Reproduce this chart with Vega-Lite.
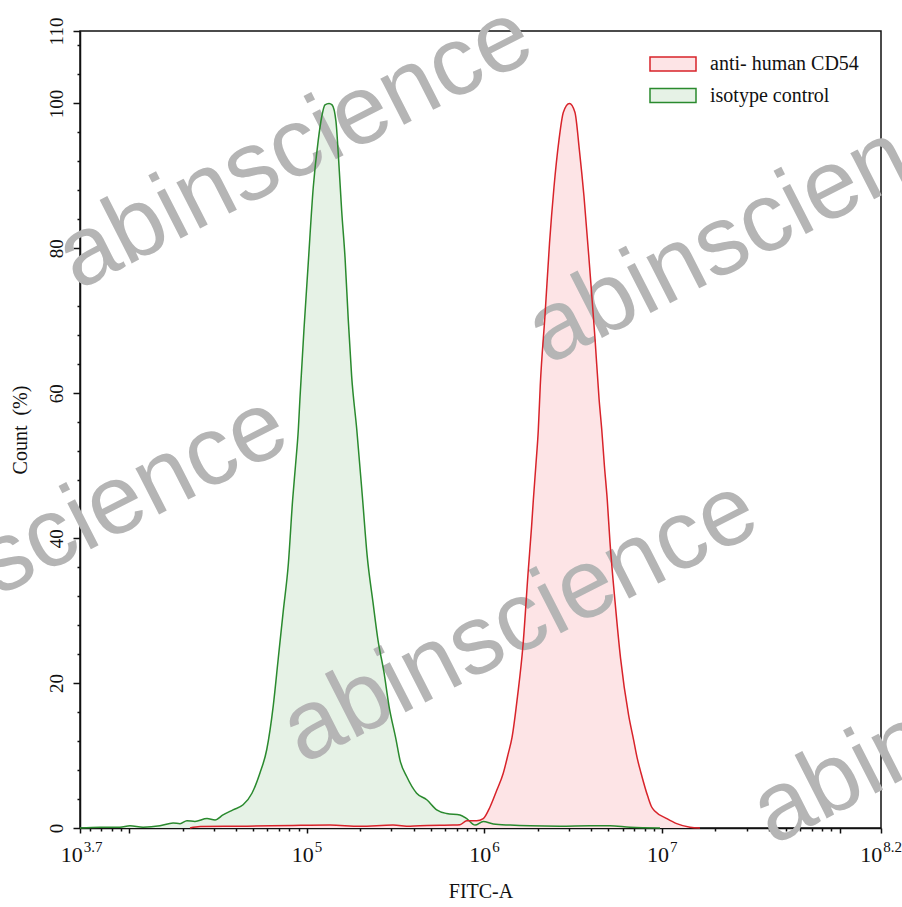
{
  "$schema": "https://vega.github.io/schema/vega-lite/v6.json",
  "width": 801,
  "height": 797,
  "autosize": {"type": "none"},
  "padding": {"left": 80, "top": 31, "right": 21, "bottom": 79},
  "background": "white",
  "datasets": {
    "hist": [
      {"series": "isotype control", "log10FITC": 3.724, "count": 0},
      {"series": "isotype control", "log10FITC": 3.837, "count": 0.1},
      {"series": "isotype control", "log10FITC": 3.949, "count": 0.1},
      {"series": "isotype control", "log10FITC": 4.005, "count": 0.3},
      {"series": "isotype control", "log10FITC": 4.079, "count": 0.1},
      {"series": "isotype control", "log10FITC": 4.174, "count": 0.3},
      {"series": "isotype control", "log10FITC": 4.248, "count": 0.7},
      {"series": "isotype control", "log10FITC": 4.287, "count": 0.6},
      {"series": "isotype control", "log10FITC": 4.326, "count": 1.0},
      {"series": "isotype control", "log10FITC": 4.371, "count": 0.9},
      {"series": "isotype control", "log10FITC": 4.439, "count": 1.3},
      {"series": "isotype control", "log10FITC": 4.484, "count": 1.1},
      {"series": "isotype control", "log10FITC": 4.529, "count": 1.8},
      {"series": "isotype control", "log10FITC": 4.585, "count": 2.5},
      {"series": "isotype control", "log10FITC": 4.642, "count": 3.2},
      {"series": "isotype control", "log10FITC": 4.692, "count": 4.8},
      {"series": "isotype control", "log10FITC": 4.737, "count": 7.6},
      {"series": "isotype control", "log10FITC": 4.775, "count": 10.8},
      {"series": "isotype control", "log10FITC": 4.812, "count": 16.9},
      {"series": "isotype control", "log10FITC": 4.840, "count": 23.4},
      {"series": "isotype control", "log10FITC": 4.868, "count": 29.9},
      {"series": "isotype control", "log10FITC": 4.897, "count": 36.5},
      {"series": "isotype control", "log10FITC": 4.921, "count": 45.3},
      {"series": "isotype control", "log10FITC": 4.937, "count": 50},
      {"series": "isotype control", "log10FITC": 4.953, "count": 55},
      {"series": "isotype control", "log10FITC": 4.962, "count": 59.2},
      {"series": "isotype control", "log10FITC": 4.985, "count": 68.9},
      {"series": "isotype control", "log10FITC": 5.009, "count": 78},
      {"series": "isotype control", "log10FITC": 5.037, "count": 88.4},
      {"series": "isotype control", "log10FITC": 5.065, "count": 94.9},
      {"series": "isotype control", "log10FITC": 5.085, "count": 98.2},
      {"series": "isotype control", "log10FITC": 5.103, "count": 99.8},
      {"series": "isotype control", "log10FITC": 5.126, "count": 100},
      {"series": "isotype control", "log10FITC": 5.143, "count": 99.8},
      {"series": "isotype control", "log10FITC": 5.165, "count": 97.5},
      {"series": "isotype control", "log10FITC": 5.178, "count": 93},
      {"series": "isotype control", "log10FITC": 5.197, "count": 85.2},
      {"series": "isotype control", "log10FITC": 5.216, "count": 78.7},
      {"series": "isotype control", "log10FITC": 5.234, "count": 70.2},
      {"series": "isotype control", "log10FITC": 5.253, "count": 62.4},
      {"series": "isotype control", "log10FITC": 5.282, "count": 55},
      {"series": "isotype control", "log10FITC": 5.315, "count": 45.3},
      {"series": "isotype control", "log10FITC": 5.340, "count": 37.7},
      {"series": "isotype control", "log10FITC": 5.373, "count": 31.2},
      {"series": "isotype control", "log10FITC": 5.401, "count": 26},
      {"series": "isotype control", "log10FITC": 5.435, "count": 21.5},
      {"series": "isotype control", "log10FITC": 5.463, "count": 16.9},
      {"series": "isotype control", "log10FITC": 5.503, "count": 12.2},
      {"series": "isotype control", "log10FITC": 5.525, "count": 9.4},
      {"series": "isotype control", "log10FITC": 5.563, "count": 7.1},
      {"series": "isotype control", "log10FITC": 5.619, "count": 4.8},
      {"series": "isotype control", "log10FITC": 5.676, "count": 3.9},
      {"series": "isotype control", "log10FITC": 5.732, "count": 2.5},
      {"series": "isotype control", "log10FITC": 5.788, "count": 2.0},
      {"series": "isotype control", "log10FITC": 5.863, "count": 1.8},
      {"series": "isotype control", "log10FITC": 5.901, "count": 1.3},
      {"series": "isotype control", "log10FITC": 5.948, "count": 0.4},
      {"series": "isotype control", "log10FITC": 5.994, "count": 0.9},
      {"series": "isotype control", "log10FITC": 6.051, "count": 0.55},
      {"series": "isotype control", "log10FITC": 6.145, "count": 0.4},
      {"series": "isotype control", "log10FITC": 6.257, "count": 0.3},
      {"series": "isotype control", "log10FITC": 6.426, "count": 0.25},
      {"series": "isotype control", "log10FITC": 6.595, "count": 0.3},
      {"series": "isotype control", "log10FITC": 6.707, "count": 0.3},
      {"series": "isotype control", "log10FITC": 6.820, "count": 0.1},
      {"series": "isotype control", "log10FITC": 6.989, "count": 0},
      {"series": "anti- human CD54", "log10FITC": 4.343, "count": 0},
      {"series": "anti- human CD54", "log10FITC": 4.400, "count": 0.2},
      {"series": "anti- human CD54", "log10FITC": 4.664, "count": 0.25},
      {"series": "anti- human CD54", "log10FITC": 4.923, "count": 0.35},
      {"series": "anti- human CD54", "log10FITC": 5.131, "count": 0.4},
      {"series": "anti- human CD54", "log10FITC": 5.300, "count": 0.25},
      {"series": "anti- human CD54", "log10FITC": 5.486, "count": 0.4},
      {"series": "anti- human CD54", "log10FITC": 5.582, "count": 0.25},
      {"series": "anti- human CD54", "log10FITC": 5.677, "count": 0.35},
      {"series": "anti- human CD54", "log10FITC": 5.824, "count": 0.4},
      {"series": "anti- human CD54", "log10FITC": 5.863, "count": 0.45},
      {"series": "anti- human CD54", "log10FITC": 5.901, "count": 1.0},
      {"series": "anti- human CD54", "log10FITC": 5.957, "count": 1.0},
      {"series": "anti- human CD54", "log10FITC": 5.994, "count": 1.3},
      {"series": "anti- human CD54", "log10FITC": 6.032, "count": 2.9},
      {"series": "anti- human CD54", "log10FITC": 6.070, "count": 5.2},
      {"series": "anti- human CD54", "log10FITC": 6.107, "count": 7.6},
      {"series": "anti- human CD54", "log10FITC": 6.135, "count": 10.3},
      {"series": "anti- human CD54", "log10FITC": 6.156, "count": 12.5},
      {"series": "anti- human CD54", "log10FITC": 6.187, "count": 18.2},
      {"series": "anti- human CD54", "log10FITC": 6.218, "count": 25.3},
      {"series": "anti- human CD54", "log10FITC": 6.246, "count": 35.1},
      {"series": "anti- human CD54", "log10FITC": 6.266, "count": 41.6},
      {"series": "anti- human CD54", "log10FITC": 6.276, "count": 45.3},
      {"series": "anti- human CD54", "log10FITC": 6.290, "count": 50},
      {"series": "anti- human CD54", "log10FITC": 6.304, "count": 55},
      {"series": "anti- human CD54", "log10FITC": 6.315, "count": 61.1},
      {"series": "anti- human CD54", "log10FITC": 6.342, "count": 70.9},
      {"series": "anti- human CD54", "log10FITC": 6.367, "count": 80.7},
      {"series": "anti- human CD54", "log10FITC": 6.392, "count": 88.4},
      {"series": "anti- human CD54", "log10FITC": 6.420, "count": 94.9},
      {"series": "anti- human CD54", "log10FITC": 6.445, "count": 98.8},
      {"series": "anti- human CD54", "log10FITC": 6.479, "count": 100},
      {"series": "anti- human CD54", "log10FITC": 6.510, "count": 98.8},
      {"series": "anti- human CD54", "log10FITC": 6.535, "count": 93.6},
      {"series": "anti- human CD54", "log10FITC": 6.561, "count": 87.2},
      {"series": "anti- human CD54", "log10FITC": 6.595, "count": 76.7},
      {"series": "anti- human CD54", "log10FITC": 6.623, "count": 67.6},
      {"series": "anti- human CD54", "log10FITC": 6.646, "count": 59.2},
      {"series": "anti- human CD54", "log10FITC": 6.661, "count": 55},
      {"series": "anti- human CD54", "log10FITC": 6.676, "count": 50},
      {"series": "anti- human CD54", "log10FITC": 6.692, "count": 45.3},
      {"series": "anti- human CD54", "log10FITC": 6.707, "count": 39.6},
      {"series": "anti- human CD54", "log10FITC": 6.736, "count": 31.2},
      {"series": "anti- human CD54", "log10FITC": 6.767, "count": 23.4},
      {"series": "anti- human CD54", "log10FITC": 6.812, "count": 15.6},
      {"series": "anti- human CD54", "log10FITC": 6.840, "count": 12.2},
      {"series": "anti- human CD54", "log10FITC": 6.862, "count": 9.5},
      {"series": "anti- human CD54", "log10FITC": 6.882, "count": 7.6},
      {"series": "anti- human CD54", "log10FITC": 6.921, "count": 4.3},
      {"series": "anti- human CD54", "log10FITC": 6.942, "count": 2.9},
      {"series": "anti- human CD54", "log10FITC": 6.961, "count": 2.3},
      {"series": "anti- human CD54", "log10FITC": 7.027, "count": 1.3},
      {"series": "anti- human CD54", "log10FITC": 7.083, "count": 0.6},
      {"series": "anti- human CD54", "log10FITC": 7.158, "count": 0.1},
      {"series": "anti- human CD54", "log10FITC": 7.214, "count": 0}
    ],
    "watermarks": [
      {"word": "abinscience", "log10FITC": 4.934, "count": 93.9},
      {"word": "abinscience", "log10FITC": 7.580, "count": 83.6},
      {"word": "abinscience", "log10FITC": 3.555, "count": 40.1},
      {"word": "abinscience", "log10FITC": 6.201, "count": 28.5},
      {"word": "abinscience", "log10FITC": 8.846, "count": 17.3}
    ],
    "xlabels": [
      {"decade": 3.7, "base": "10", "exponent": "3.7"},
      {"decade": 5, "base": "10", "exponent": "5"},
      {"decade": 6, "base": "10", "exponent": "6"},
      {"decade": 7, "base": "10", "exponent": "7"},
      {"decade": 8.2, "base": "10", "exponent": "8.2"}
    ]
  },
  "layer": [
    {
      "data": {"name": "hist"},
      "mark": {"type": "area", "interpolate": "monotone"},
      "encoding": {
        "x": {
          "field": "log10FITC", "type": "quantitative",
          "scale": {"domain": [3.724, 8.233], "zero": false, "nice": false},
          "axis": {"orient": "bottom", "values": [3.724, 4, 5, 6, 7, 8, 8.233], "tickSize": 5, "labels": false,
                   "title": "FITC-A", "titleFontSize": 20, "titlePadding": 48}
        },
        "y": {
          "field": "count", "type": "quantitative", "stack": null,
          "scale": {"domain": [0, 110], "nice": false},
          "axis": {"orient": "left", "values": [0, 20, 40, 60, 80, 100, 110], "tickSize": 7,
                   "labelAngle": -90, "labelAlign": "center", "labelBaseline": "bottom", "labelFontSize": 19,
                   "labelPadding": 7, "title": "Count\u00a0\u00a0(%)", "titleFontSize": 20, "titlePadding": 17}
        },
        "fill": {
          "field": "series", "type": "nominal",
          "scale": {"domain": ["anti- human CD54", "isotype control"], "range": ["#fde4e6", "#e6f2e6"]},
          "legend": {"title": null, "symbolStrokeColor": "#d8232a"}
        }
      }
    },
    {
      "data": {"name": "watermarks"},
      "mark": {"type": "text", "angle": -27, "font": "Liberation Sans", "fontSize": 98, "color": "#b5b5b5", "align": "center", "baseline": "middle"},
      "encoding": {
        "x": {"field": "log10FITC", "type": "quantitative", "axis": null},
        "y": {"field": "count", "type": "quantitative", "axis": null},
        "text": {"field": "word"}
      }
    },
    {
      "data": {"name": "hist"},
      "mark": {"type": "line", "interpolate": "monotone", "strokeWidth": 1.5},
      "encoding": {
        "x": {
          "field": "log10FITC", "type": "quantitative",
          "axis": {"orient": "bottom", "values": [3.778, 3.845, 3.903, 3.954, 4.301, 4.477, 4.602, 4.699, 4.778, 4.845, 4.903, 4.954, 5.301, 5.477, 5.602, 5.699, 5.778, 5.845, 5.903, 5.954, 6.301, 6.477, 6.602, 6.699, 6.778, 6.845, 6.903, 6.954, 7.301, 7.477, 7.602, 7.699, 7.778, 7.845, 7.903, 7.954],
                   "tickSize": 3, "labels": false, "domain": false, "title": null}
        },
        "y": {
          "field": "count", "type": "quantitative",
          "axis": {"orient": "left", "values": [4, 8, 12, 16, 24, 28, 32, 36, 44, 48, 52, 56, 64, 68, 72, 76, 84, 88, 92, 96, 104, 108],
                   "tickSize": 3, "labels": false, "domain": false, "title": null}
        },
        "stroke": {
          "field": "series", "type": "nominal",
          "scale": {"domain": ["anti- human CD54", "isotype control"], "range": ["#d8232a", "#2a8a2e"]},
          "legend": {"title": null}
        }
      }
    },
    {
      "data": {"name": "xlabels"},
      "mark": {"type": "text", "align": "right", "baseline": "alphabetic", "dx": 7, "dy": 34, "font": "Liberation Serif", "fontSize": 22, "color": "#111"},
      "encoding": {
        "x": {"field": "decade", "type": "quantitative", "axis": null},
        "y": {"datum": 0, "type": "quantitative", "axis": null},
        "text": {"field": "base"}
      }
    },
    {
      "data": {"name": "xlabels"},
      "mark": {"type": "text", "align": "left", "baseline": "alphabetic", "dx": 8, "dy": 24, "font": "Liberation Serif", "fontSize": 15, "color": "#111"},
      "encoding": {
        "x": {"field": "decade", "type": "quantitative", "axis": null},
        "y": {"datum": 0, "type": "quantitative", "axis": null},
        "text": {"field": "exponent"}
      }
    }
  ],
  "resolve": {"axis": {"x": "independent", "y": "independent"}},
  "config": {
    "font": "Liberation Serif",
    "view": {"stroke": "#111", "strokeWidth": 1.5},
    "axis": {"domainColor": "#111", "domainWidth": 1.5, "tickColor": "#111", "tickWidth": 1.5,
             "labelColor": "#111", "titleColor": "#111", "labelFont": "Liberation Serif", "titleFont": "Liberation Serif",
             "titleFontWeight": "normal", "grid": false, "zindex": 1, "labelFlush": false, "labelOverlap": false, "labelBound": false},
    "legend": {"orient": "none", "legendX": 583, "legendY": 23, "padding": 0,
               "labelFont": "Liberation Serif", "labelFontSize": 20, "labelColor": "#111", "labelOffset": 27,
               "symbolType": "M-3.2857,-1H3.2857V1H-3.2857Z", "symbolSize": 196, "symbolStrokeWidth": 1.5,
               "symbolOpacity": 1, "rowPadding": 11.5}
  }
}
